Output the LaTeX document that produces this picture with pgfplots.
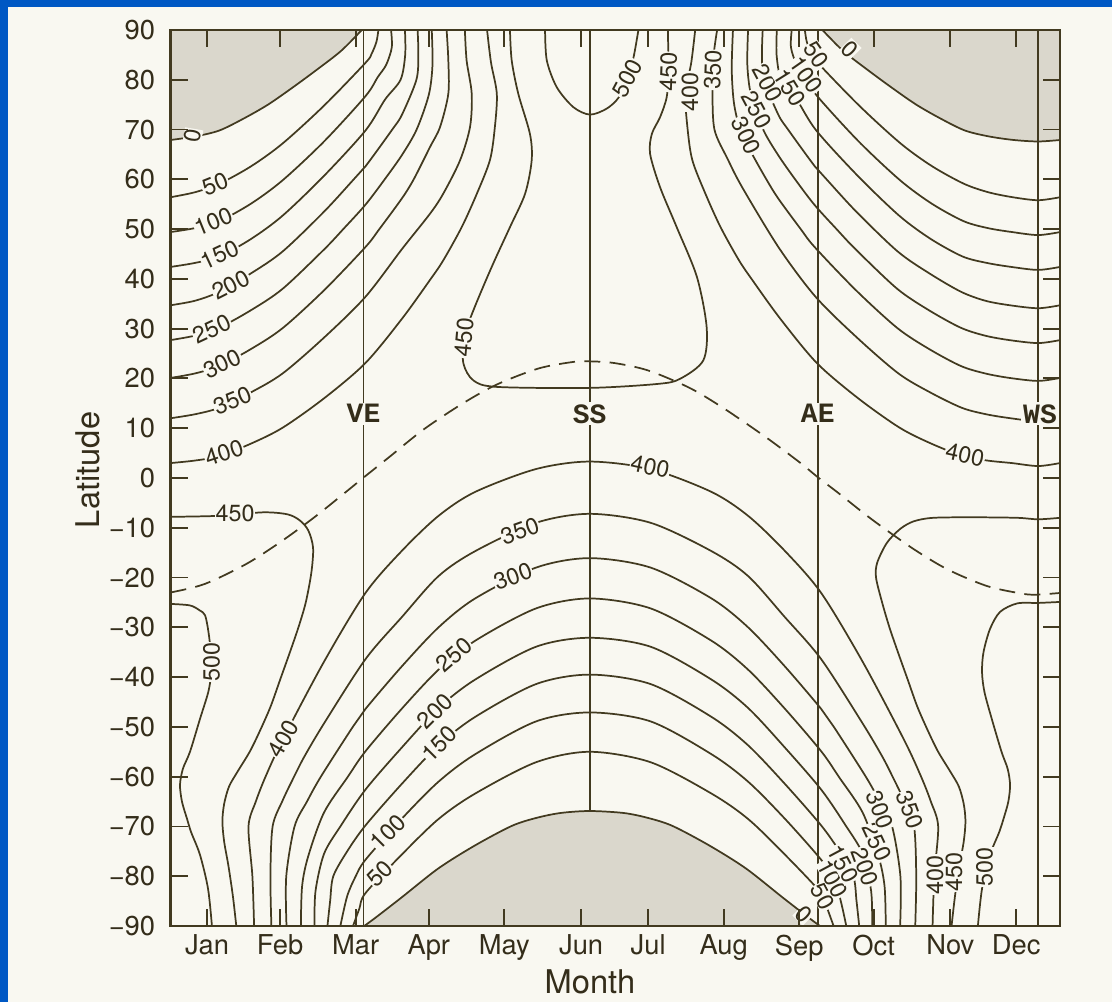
\documentclass[border=0pt]{standalone}
\usepackage{pgfplots}
\pgfplotsset{compat=1.18}
\usepackage{fontspec}
\setmainfont{TeX Gyre Heros}
\newfontfamily\markfont{Liberation Mono}
\definecolor{paper}{RGB}{249,248,241}
\definecolor{ink}{RGB}{66,58,32}
\definecolor{textink}{RGB}{52,45,26}
\definecolor{night}{RGB}{218,215,204}
\definecolor{slide}{RGB}{0,88,196}
\tikzset{
  iso/.style={ink, line width=1.3pt, smooth, mark=none},
  lbl/.style={font=\fontsize{17.5}{17.5}\selectfont, text=textink, fill=paper, inner sep=0.6pt},
  mk/.style={font=\markfont\bfseries\fontsize{21}{21}\selectfont, text=textink, fill=paper, inner sep=1.5pt},
}

\begin{document}
\begin{tikzpicture}
% page and slide border
\useasboundingbox (0,0) rectangle (834pt,751.5pt);
\fill[paper] (0,0) rectangle (834pt,751.5pt);
\fill[slide] (0,746pt) rectangle (834pt,751.5pt);
\fill[slide] (0,0) rectangle (6pt,751.5pt);
\begin{axis}[
  at={(127.875pt,57pt)}, anchor=south west,
  scale only axis, width=667.125pt, height=672pt,
  xmin=0, xmax=365, ymin=-90, ymax=90,
  axis on top,
  axis line style={ink, line width=1.7pt},
  tick align=inside,
  major tick length=13pt,
  every tick/.style={ink, line width=1.4pt},
  xtick={15,45,76,106,137,168.5,196,227,258,288.5,320,347},
  xticklabels={Jan,Feb,Mar,Apr,May,Jun,Jul,Aug,Sep,Oct,Nov,Dec},
  ytick={-90,-80,...,90},
  yticklabels={−90,−80,−70,−60,−50,−40,−30,−20,−10,0,10,20,30,40,50,60,70,80,90},
  tick label style={font=\fontsize{20.5}{22}\selectfont, text=textink},
  xticklabel style={yshift=-3pt},
  yticklabel style={xshift=-8pt},
  xlabel={Month}, ylabel={Latitude},
  label style={font=\fontsize{24.5}{26}\selectfont, text=textink},
  xlabel style={at={(axis description cs:0.4716,-0.0625)}, anchor=center},
  ylabel style={at={(axis description cs:-0.0927,0.509)}, anchor=center},
]
% ---------- polar night ----------
\addplot[fill=night, draw=none] coordinates {(0,67.9) (10,68.6) (20,69.8) (30,72.2) (40,75.0) (50,78.4) (60,82.0) (70,85.8) (78.5,90) (78.5,95) (-5,95) (-5,67.9)} -- cycle;
\addplot[fill=night, draw=none] coordinates {(267.5,90) (276,85.8) (286,82) (296,78.4) (306,75.0) (316,72.2) (326,69.8) (336,68.6) (346,67.9) (356,67.6) (365,67.9) (370,67.9) (370,95) (267.5,95)} -- cycle;
\addplot[fill=night, draw=none] coordinates {(79.5,-90) (85,-88) (95,-84.2) (110,-78.4) (125,-73.8) (140,-69.9) (150,-68.3) (160,-67.3) (172,-66.9) (186,-67.3) (196,-68.3) (206,-69.9) (221,-73.8) (236,-78.4) (251,-84.2) (261,-88) (266.5,-90) (266.5,-95) (79.5,-95)} -- cycle;

% ---------- zero contours (edge of polar night) ----------
\addplot[iso] coordinates {(0,67.9) (10,68.6) (20,69.8) (30,72.2) (40,75.0) (50,78.4) (60,82.0) (70,85.8) (78.5,90)};
\addplot[iso] coordinates {(267.5,90) (276,85.8) (286,82) (296,78.4) (306,75.0) (316,72.2) (326,69.8) (336,68.6) (346,67.9) (356,67.6) (365,67.9)};
\addplot[iso] coordinates {(79.5,-90) (85,-88) (95,-84.2) (110,-78.4) (125,-73.8) (140,-69.9) (150,-68.3) (160,-67.3) (172,-66.9) (186,-67.3) (196,-68.3) (206,-69.9) (221,-73.8) (236,-78.4) (251,-84.2) (261,-88) (266.5,-90)};

% ---------- northern hemisphere, January to spring ----------
\addplot[iso] coordinates {(0,56.4) (10,57.4) (20,59.1) (33,62.6) (46,67.2) (63,74.8) (80,83.4) (82.5,85.2) (84.5,87.6) (85.3,90)};
\addplot[iso] coordinates {(0,49.4) (10,50.2) (20,51.6) (33,55.1) (46,59.8) (63,67.6) (80,76.7) (85,80.5) (88.5,83) (90.8,86.5) (90.5,90)};
\addplot[iso] coordinates {(0,42.4) (10,43.2) (20,44.5) (33,48.0) (46,52.7) (63,60.7) (80,69.8) (88,76) (94.4,80) (96.3,85) (96.2,90)};
\addplot[iso] coordinates {(0,34.7) (10,35.6) (20,37.4) (33,41.1) (46,45.5) (63,53.5) (75.2,60) (80,62.6) (91,70) (95,73.0) (100.9,80) (101.7,85) (101.4,90)};
\addplot[iso] coordinates {(0,27.7) (10,28.6) (20,30.2) (33,33.7) (46,38.0) (63,45.9) (70.9,50) (80,54.9) (87.9,60) (95,64.9) (101,70) (106,77) (107.5,83) (107.2,90)};
\addplot[iso] coordinates {(0,20.1) (10,21.0) (20,22.5) (33,25.9) (46,30.1) (63,37.7) (80,46.4) (85.7,50) (95,56.2) (99.8,60) (106.5,66.5) (110.6,70.5) (114,77.2) (114,83.9) (113.3,90)};
\addplot[iso] coordinates {(0,12.0) (10,12.8) (20,14.1) (33,17.2) (46,21.0) (63,28.2) (80,36.4) (95,46.0) (106.5,53.1) (111.9,57.1) (118.8,63.8) (122.9,70.5) (123.6,77.2) (121.5,83.9) (120.8,90)};
\addplot[iso] coordinates {(0,3.0) (10,3.5) (20,4.4) (33,6.9) (46,10.1) (63,16.0) (80,23.1) (95,32.0) (106.5,39.8) (111.9,43.7) (119.5,50.4) (125.7,57.1) (131.1,63.9) (133.1,70.5) (133.9,77.2) (131.5,83.5) (129.9,90)};

% ---------- northern hemisphere, autumn to December ----------
\addplot[iso] coordinates {(260.3,90) (261.1,87.6) (263.1,85.2) (265.6,83.4) (282.6,74.8) (299.6,67.2) (312.6,62.6) (325.6,59.1) (335.6,57.4) (345.6,56.4) (356,55.8) (365,56.4)};
\addplot[iso] coordinates {(254.9,90) (254.6,86.5) (256.9,83) (260.4,80.5) (265.4,76.7) (282.4,67.6) (299.4,59.8) (312.4,55.1) (325.4,51.6) (335.4,50.2) (345.4,49.4) (356,48.8) (365,49.4)};
\addplot[iso] coordinates {(248.8,90) (248.7,85) (250.6,80) (257,76) (265,69.8) (282,60.7) (299,52.7) (312,48.0) (325,44.5) (335,43.2) (345,42.4) (356,41.8) (365,42.4)};
\addplot[iso] coordinates {(243,90) (242.7,85) (243.5,80) (249.4,73) (253.4,70) (264.4,62.6) (269.2,60) (281.4,53.5) (298.4,45.5) (311.4,41.1) (324.4,37.4) (334.4,35.6) (344.4,34.7) (356,34.1) (365,34.7)};
\addplot[iso] coordinates {(237,90) (236.7,83) (238.2,77) (243.2,70) (249.3,64.9) (256.3,60) (264.2,54.9) (273.3,50) (281.2,45.9) (298.2,38.0) (311.2,33.7) (324.2,30.2) (334.2,28.6) (344.2,27.7) (356,27.1) (365,27.7)};
\addplot[iso] coordinates {(230.8,90) (230.3,82) (231.3,75) (234.3,69.2) (239.3,64.5) (244.5,60) (249.3,56.2) (258.6,50) (264.3,46.4) (281.3,37.7) (298.3,30.1) (311.3,25.9) (324.3,22.5) (334.3,21.0) (344.3,20.1) (356,19.5) (365,20.1)};
\addplot[iso] coordinates {(224.3,90) (222.9,85) (222.4,78) (223.2,70) (228.7,64) (234.7,58.3) (249.7,46.2) (264.7,36.4) (281.7,28.2) (298.7,21.0) (311.7,17.2) (324.7,14.1) (334.7,12.8) (344.7,12.0) (356,11.4) (365,12.0)};
\addplot[iso] coordinates {(215.3,90) (213.7,83.5) (211.3,77.2) (212.1,70.5) (214.1,63.9) (219.5,57.1) (225.7,50.4) (233.3,43.7) (238.7,39.8) (250.2,32.0) (265.2,23.1) (282.2,16.0) (299.2,10.1) (312.2,6.9) (325.2,4.4) (335.2,3.5) (345.2,3.0) (356,2.4) (365,3.0)};

% ---------- northern summer maxima ----------
\addplot[iso] coordinates {(139.3,90) (140,83.9) (142.7,77.2) (147.5,69.1) (148.2,63.8) (145.5,57.1) (139.3,50.4) (131.8,42.4) (124.3,33.7) (120.4,28.2) (120.2,23.0) (124.3,19.6) (133.9,18.3) (172.1,18.1) (200,18.9) (209,19.9) (218.6,23.6) (220,30.3) (216,40.4) (207.7,50.4) (200.9,58.4) (196.8,65.1) (197.5,69.1) (200.9,72.5) (203.6,76.5) (204.3,81.6) (204.1,90)};
\addplot[iso] coordinates {(153.7,90) (154.4,83.9) (158.5,78.5) (165.3,74.5) (172.1,73.0) (179,74.2) (184,76.5) (187.5,80.3) (190,84.5) (192,90)};

% ---------- southern hemisphere arches ----------
\addplot[iso] coordinates {(74.9,-90) (77.5,-86.5) (80,-83.4) (95,-75.6) (110,-68.5) (125,-63.4) (150,-57.1) (172,-55.0) (197,-57.1) (222,-63.4) (237,-68.5) (252,-75.6) (267,-83.4) (269.5,-86.5) (272.1,-90)};
\addplot[iso] coordinates {(69.7,-90) (72.5,-84) (76,-80) (80,-76.7) (95,-68.4) (110,-61.0) (125,-55.5) (150,-48.9) (172,-47.1) (197,-48.9) (222,-55.5) (237,-61.0) (252,-68.4) (267,-76.7) (271,-80) (274.5,-84) (277.3,-90)};
\addplot[iso] coordinates {(64.4,-90) (65.5,-85) (66.8,-80) (72.5,-75) (80,-69.8) (95,-61.4) (110,-53.7) (125,-48.0) (150,-41.4) (172,-39.5) (197,-41.4) (222,-48.0) (237,-53.7) (252,-61.4) (267,-69.8) (274.5,-75) (280.2,-80) (281.5,-85) (282.6,-90)};
\addplot[iso] coordinates {(59.1,-90) (59.5,-83) (63,-75.5) (69.7,-70) (80,-62.6) (95,-54.1) (110,-46.2) (125,-40.5) (150,-33.9) (172,-32.1) (197,-33.9) (222,-40.5) (237,-46.2) (252,-54.1) (267,-62.6) (277.3,-70) (284,-75.5) (287.5,-83) (287.9,-90)};
\addplot[iso] coordinates {(53.5,-90) (54,-82) (56.5,-76) (63,-67.2) (72.8,-60) (80,-54.9) (95,-46.3) (110,-38.5) (125,-32.7) (150,-26.2) (172,-24.2) (197,-26.2) (222,-32.7) (237,-38.5) (252,-46.3) (267,-54.9) (274.2,-60) (284,-67.2) (290.5,-76) (293,-82) (293.5,-90)};
\addplot[iso] coordinates {(47.6,-90) (47.5,-80) (50.9,-70) (56,-65) (61.7,-60) (74.8,-50) (80,-46.4) (95,-37.8) (110,-30.0) (125,-24.2) (150,-18.0) (172,-16.1) (197,-18.0) (222,-24.2) (237,-30.0) (252,-37.8) (267,-46.4) (272.2,-50) (285.3,-60) (291,-65) (296.1,-70) (299.5,-80) (299.4,-90)};
\addplot[iso] coordinates {(41.4,-90) (41,-80) (41.9,-70) (46,-64.8) (50.7,-60) (55,-55.9) (63,-49.3) (80,-36.4) (95,-27.9) (110,-19.7) (125,-14.7) (150,-9.0) (172,-7.2) (197,-9.0) (222,-14.7) (237,-19.7) (252,-27.9) (267,-36.4) (284,-49.3) (292,-55.9) (296.3,-60) (301,-64.8) (305.1,-70) (306,-80) (305.6,-90)};
\addplot[iso] coordinates {(34.3,-90) (33.6,-80) (32,-70) (35,-65) (39,-60) (46,-52.6) (63,-36.9) (80,-23.1) (95,-14.6) (110,-7.6) (125,-2.8) (150,1.8) (172,3.3) (197,1.8) (222,-2.8) (237,-7.6) (252,-14.6) (267,-23.1) (284,-36.9) (301,-52.6) (308,-60) (312,-65) (315,-70) (313.4,-80) (312.7,-90)};

% ---------- southern summer maxima ----------
\addplot[iso] coordinates {(0,-7.8) (20,-7.6) (38,-6.9) (48,-7.3) (53,-8.5) (56.5,-10.5) (58.5,-14) (57.8,-19) (55.5,-25) (52.5,-30) (49,-35) (45,-40.5) (41,-46) (36.5,-51) (32.5,-55) (27.5,-59) (24,-62) (22,-65.5) (21.3,-69) (22,-73) (23.8,-78) (25.6,-84) (27,-90)};
\addplot[iso] coordinates {(365,-8.0) (356,-8.3) (347.5,-8.0) (330,-7.9) (313,-8.0) (305,-8.7) (299.5,-10.2) (294,-13) (290,-17) (289.5,-20) (292,-25) (295,-30) (298.5,-35) (302.5,-40.5) (306.5,-46) (311,-51) (315,-55) (320,-59) (323.5,-62) (325.5,-65.5) (326.2,-69) (325.5,-73) (323.7,-78) (321.9,-84) (320.5,-90)};
\addplot[iso] coordinates {(0,-25.3) (8,-25.6) (12,-26.6) (14.2,-27.6) (15.6,-31) (16.6,-35.5) (16.6,-39.5) (15.5,-43) (12.1,-48.4) (8,-55) (5.1,-58.4) (3.9,-61.6) (4.7,-65) (6.8,-68.5) (8.5,-71.2) (12.1,-75.7) (15.4,-82.5) (17,-90)};
\addplot[iso] coordinates {(365,-24.9) (356,-25.1) (347.4,-25.2) (340.4,-26.9) (336.3,-30.3) (333.6,-35) (333,-39) (334,-43) (337,-48.4) (341,-55) (343.5,-58.4) (344.5,-61.6) (343.8,-65) (341.8,-68.5) (340,-71.2) (336.3,-75.7) (333,-82.5) (331.3,-90)};

% ---------- latitude of the overhead sun ----------
\addplot[ink, line width=1.3pt, smooth, dash pattern=on 12pt off 7pt] coordinates {(0,-23.0) (14,-21.3) (31,-17.3) (45,-12.9) (59,-7.9) (73,-2.4) (79,0) (90,4.3) (104,9.8) (120,15.0) (134,18.8) (151,22.0) (165,23.3) (171.5,23.44) (182,23.1) (196,21.6) (213,18.1) (227,14.0) (244,8.3) (258,3.2) (266,0) (274,-3.0) (288,-8.4) (305,-14.3) (319,-18.4) (335,-21.7) (349,-23.2) (355,-23.44) (365,-23.1)};

% ---------- equinoxes and solstices ----------
\addplot[ink, line width=1.3pt] coordinates {(79.2,-90) (79.2,90)};
\addplot[ink, line width=1.3pt] coordinates {(172,-66.9) (172,90)};
\addplot[ink, line width=1.3pt] coordinates {(265.6,-90) (265.6,90)};
\addplot[ink, line width=1.3pt] coordinates {(356,-90) (356,90)};
\node[mk] at (79.2,12.9) {VE};
\node[mk] at (172,12.9) {SS};
\node[mk] at (265.6,12.9) {AE};
\node[mk] at (356.8,12.9) {WS};

% ---------- contour labels ----------
\node[lbl,rotate=80] at (9.2,68.7) {0};
\node[lbl,rotate=22] at (18.3,59.0) {50};
\node[lbl,rotate=22] at (17.6,51.5) {100};
\node[lbl,rotate=25] at (20.3,44.9) {150};
\node[lbl,rotate=27] at (24.8,38.8) {200};
\node[lbl,rotate=25] at (17.0,29.9) {250};
\node[lbl,rotate=25] at (21.3,23.0) {300};
\node[lbl,rotate=22] at (25.4,15.5) {350};
\node[lbl,rotate=18] at (22,5.0) {400};
\node[lbl] at (26.5,-7.2) {450};
\node[lbl,rotate=90] at (16.8,-37) {500};
\node[lbl,rotate=60] at (46.4,-52.4) {400};
\node[lbl,rotate=85] at (120.4,28.2) {450};
\node[lbl,rotate=62] at (187.5,80.3) {500};
\node[lbl,rotate=88] at (204.3,81.6) {450};
\node[lbl,rotate=90] at (213.2,77.6) {400};
\node[lbl,rotate=88] at (222.5,82) {350};
\node[lbl,rotate=-65] at (236.2,68.8) {300};
\node[lbl,rotate=-62] at (240.5,74) {250};
\node[lbl,rotate=-62] at (245,79.3) {200};
\node[lbl,rotate=-58] at (254,78.5) {150};
\node[lbl,rotate=-55] at (260.8,81) {100};
\node[lbl,rotate=-55] at (265,85) {50};
\node[lbl,rotate=-45] at (278.8,86.1) {0};
\node[lbl,rotate=-12] at (196.8,2.3) {400};
\node[lbl,rotate=20] at (143.4,-10.6) {350};
\node[lbl,rotate=20] at (140.5,-19.8) {300};
\node[lbl,rotate=41] at (116.3,-35.5) {250};
\node[lbl,rotate=45] at (108.5,-46.8) {200};
\node[lbl,rotate=45] at (110.4,-53.4) {150};
\node[lbl,rotate=45] at (89.2,-71.1) {100};
\node[lbl,rotate=45] at (86,-79.5) {50};
\node[lbl,rotate=-62] at (267.7,-84.1) {50};
\node[lbl,rotate=-62] at (271.8,-80.5) {100};
\node[lbl,rotate=-62] at (276,-77.5) {150};
\node[lbl,rotate=-70] at (285,-78.1) {200};
\node[lbl,rotate=-65] at (289.9,-73.1) {250};
\node[lbl,rotate=-70] at (291.1,-66.7) {300};
\node[lbl,rotate=-70] at (303.5,-66.7) {350};
\node[lbl,rotate=90] at (313.7,-79.7) {400};
\node[lbl,rotate=90] at (321.5,-79.1) {450};
\node[lbl,rotate=90] at (334,-78.1) {500};
\node[lbl,rotate=-45] at (260,-87.6) {0};
\node[lbl,rotate=-12] at (326,4.6) {400};
\end{axis}
\end{tikzpicture}
\end{document}
